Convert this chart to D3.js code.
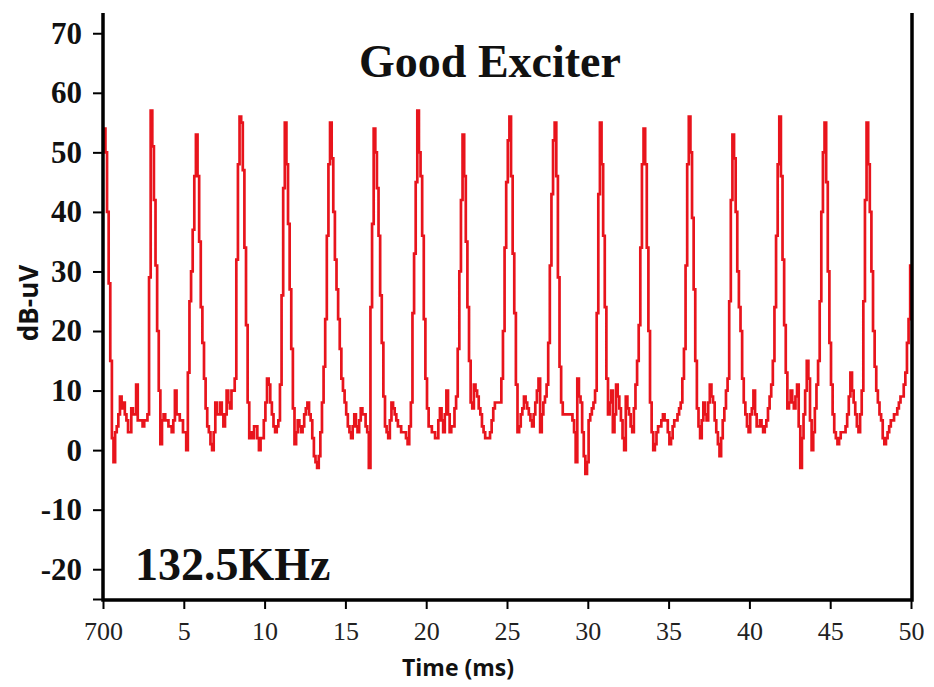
<!DOCTYPE html>
<html>
<head>
<meta charset="utf-8">
<script src="https://cdn.jsdelivr.net/npm/d3@7"></script>
<style>
  body { margin: 0; background: #fff; }
  svg { display: block; }
</style>
</head>
<body>
<svg id="chart" width="934" height="687"></svg>
<script>
// Received level (dB-uV) sampled every 0.1 ms from 0 to 50 ms
const sampleStepMs = 0.1;
const signalDb = [
  50, 54, 50, 40, 28, 15, 2, -2, 3, 4,
  6, 9, 7, 8, 6, 5, 3, 3, 7, 6,
  6, 11, 5, 5, 5, 4, 5, 5, 6, 29,
  57, 51, 42, 31, 20, 10, 1, 5, 6, 5,
  5, 4, 4, 3, 5, 10, 6, 6, 5, 5,
  3, 3, 0, 13, 25, 30, 37, 46, 53, 46,
  35, 24, 18, 12, 7, 4, 3, 1, 0, 3,
  8, 6, 6, 8, 6, 4, 6, 10, 8, 7,
  10, 10, 12, 32, 48, 56, 55, 47, 34, 21,
  8, 2, 3, 2, 4, 4, 2, 0, 2, 2,
  5, 8, 12, 11, 8, 6, 4, 3, 4, 5,
  11, 26, 44, 55, 48, 38, 27, 17, 7, 1,
  3, 5, 4, 3, 4, 6, 7, 8, 6, 5,
  2, -1, -2, -3, -1, 3, 8, 14, 22, 36,
  48, 55, 49, 40, 32, 27, 22, 17, 12, 10,
  8, 6, 4, 3, 2, 4, 6, 4, 3, 5,
  7, 6, 6, 4, 3, -3, 24, 38, 54, 50,
  44, 36, 26, 18, 9, 4, 3, 2, 5, 8,
  7, 6, 5, 4, 4, 3, 3, 3, 2, 1,
  4, 8, 23, 33, 45, 57, 50, 46, 36, 22,
  12, 7, 4, 4, 3, 3, 2, 2, 5, 7,
  5, 3, 6, 10, 6, 3, 4, 4, 7, 9,
  17, 30, 42, 53, 46, 35, 24, 15, 8, 7,
  11, 10, 9, 7, 6, 4, 3, 2, 2, 2,
  3, 5, 7, 8, 8, 8, 8, 12, 20, 34,
  45, 52, 56, 46, 33, 23, 11, 3, 4, 6,
  7, 9, 8, 7, 6, 5, 4, 6, 8, 10,
  12, 3, 6, 8, 9, 11, 18, 31, 43, 52,
  55, 46, 29, 14, 8, 6, 6, 6, 6, 6,
  6, 5, 3, -2, 12, 9, 8, 3, -1, -4,
  -2, 5, 6, 7, 8, 10, 23, 43, 55, 48,
  36, 24, 12, 6, 8, 10, 3, 6, 11, 9,
  7, 5, 2, 0, 9, 7, 6, 4, 3, 7,
  11, 15, 21, 34, 48, 54, 48, 34, 20, 8,
  3, 0, 1, 3, 4, 4, 5, 6, 5, 5,
  3, 1, 2, 4, 5, 5, 6, 7, 8, 12,
  17, 31, 48, 56, 50, 39, 27, 15, 7, 4,
  2, 5, 8, 6, 5, 8, 11, 9, 8, 5,
  3, 1, -1, 2, 5, 7, 10, 12, 25, 42,
  53, 49, 40, 30, 24, 20, 12, 8, 6, 4,
  3, 6, 7, 10, 6, 4, 4, 5, 4, 3,
  4, 5, 7, 9, 11, 15, 24, 36, 48, 56,
  46, 32, 21, 13, 7, 8, 10, 8, 7, 9,
  11, 4, -3, 2, 6, 10, 15, 12, 5, 0,
  3, 7, 11, 15, 25, 40, 50, 55, 45, 30,
  18, 11, 6, 3, 2, 1, 2, 3, 3, 3,
  4, 6, 9, 13, 10, 8, 6, 4, 3, 6,
  10, 25, 42, 55, 48, 40, 30, 20, 14, 10,
  8, 6, 5, 2, 1, 2, 3, 4, 5, 5,
  6, 6, 7, 8, 9, 9, 11, 13, 18, 22,
  31
];

const xTicks = [0, 5, 10, 15, 20, 25, 30, 35, 40, 45, 50];
const xTickLabels = ["700", "5", "10", "15", "20", "25", "30", "35", "40", "45", "50"];
const yTicks = [-25, -20, -10, 0, 10, 20, 30, 40, 50, 60, 70];
const yTickLabels = ["", "-20", "-10", "0", "10", "20", "30", "40", "50", "60", "70"];
const xDomain = [0, 50];
const yDomain = [-25, 73.4];

const chartTitle = "Good Exciter";
const freqLabel = "132.5KHz";
const xTitle = "Time (ms)";
const yTitle = "dB-uV";

const svg = d3.select("#chart");
const plot = { left: 103, right: 911, top: 13, bottom: 599 };

const x = d3.scaleLinear().domain(xDomain).range([plot.left, plot.right]);
const y = d3.scaleLinear().domain(yDomain).range([plot.bottom, plot.top]);

const points = signalDb.map((v, i) => ({ t: i * sampleStepMs, v }));

// trace
svg.append("defs").append("clipPath").attr("id", "plotClip")
  .append("rect")
  .attr("x", plot.left).attr("y", plot.top)
  .attr("width", plot.right - plot.left + 1).attr("height", plot.bottom - plot.top);

const line = d3.line()
  .x(d => x(d.t))
  .y(d => y(d.v))
  .curve(d3.curveStep);

svg.append("path")
  .datum(points)
  .attr("clip-path", "url(#plotClip)")
  .attr("fill", "none")
  .attr("stroke", "#e8141c")
  .attr("stroke-width", 2.7)
  .attr("stroke-linejoin", "miter")
  .attr("d", line);

// y axis
const yAxis = d3.axisLeft(y)
  .tickValues(yTicks)
  .tickFormat((d, i) => yTickLabels[i])
  .tickSize(10)
  .tickPadding(11);

const gy = svg.append("g")
  .attr("transform", `translate(${plot.left},0)`)
  .call(yAxis);
gy.select(".domain").remove();
gy.selectAll(".tick line").attr("stroke", "#000").attr("stroke-width", 2);
gy.selectAll(".tick text")
  .attr("fill", "#111")
  .style("font-family", "'Liberation Serif', 'Times New Roman', serif")
  .style("font-weight", "bold")
  .style("font-size", "31px");

// x axis
const xAxis = d3.axisBottom(x)
  .tickValues(xTicks)
  .tickFormat((d, i) => xTickLabels[i])
  .tickSize(9)
  .tickPadding(8);

const gx = svg.append("g")
  .attr("transform", `translate(0,${plot.bottom + 1})`)
  .call(xAxis);
gx.select(".domain").remove();
gx.selectAll(".tick line").attr("stroke", "#000").attr("stroke-width", 2);
gx.selectAll(".tick text")
  .attr("fill", "#222")
  .attr("y", 40)
  .attr("dy", 0)
  .style("font-family", "'Liberation Serif', 'Times New Roman', serif")
  .style("font-size", "26px");

// frame: left, bottom, right
svg.append("path")
  .attr("fill", "none")
  .attr("stroke", "#000")
  .attr("stroke-width", 3.5)
  .attr("d", `M${plot.left},${plot.top}V${plot.bottom + 1}H${plot.right + 1}V${plot.top}`);

// titles
svg.append("text")
  .attr("x", 490).attr("y", 77)
  .attr("text-anchor", "middle")
  .style("font-family", "'Liberation Serif', 'Times New Roman', serif")
  .style("font-weight", "bold")
  .style("font-size", "46px")
  .attr("fill", "#111")
  .text(chartTitle);

svg.append("text")
  .attr("x", 135).attr("y", 580)
  .style("font-family", "'Liberation Serif', 'Times New Roman', serif")
  .style("font-weight", "bold")
  .style("font-size", "46px")
  .attr("fill", "#111")
  .text(freqLabel);

svg.append("text")
  .attr("x", 458).attr("y", 676)
  .attr("text-anchor", "middle")
  .style("font-family", "'Open Sans', 'DejaVu Sans', sans-serif")
  .style("font-weight", "bold")
  .style("font-size", "23px")
  .attr("fill", "#111")
  .text(xTitle);

svg.append("text")
  .attr("transform", "translate(38,303) rotate(-90)")
  .attr("text-anchor", "middle")
  .style("font-family", "'Open Sans', 'DejaVu Sans', sans-serif")
  .style("font-weight", "bold")
  .style("font-size", "26px")
  .attr("fill", "#111")
  .text(yTitle);
</script>
</body>
</html>
